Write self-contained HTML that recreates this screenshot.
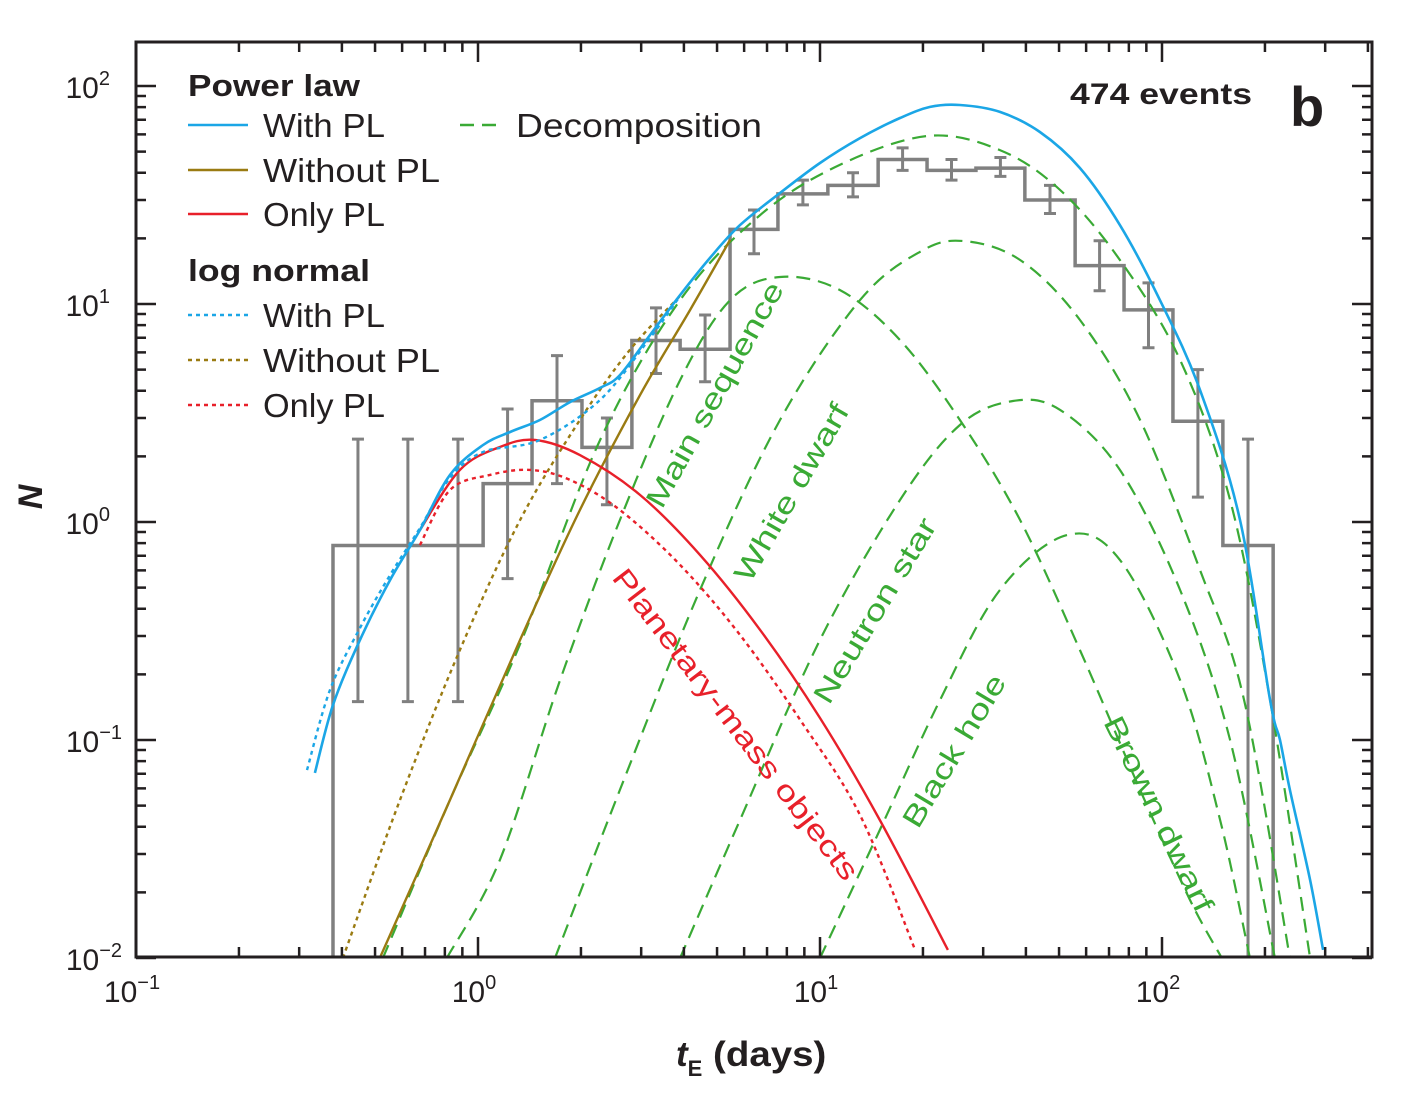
<!DOCTYPE html>
<html><head><meta charset="utf-8">
<style>
html,body{margin:0;padding:0;background:#fff;}
svg{display:block;font-family:"Liberation Sans",sans-serif;}
</style></head>
<body>
<svg id="chart" width="1419" height="1096" viewBox="0 0 1419 1096" xmlns="http://www.w3.org/2000/svg">
<g id="marks"></g>
<g id="axes"></g>
<g id="labels">
<text x="188" y="96" font-size="31" font-weight="bold" fill="#231f20" textLength="172" lengthAdjust="spacingAndGlyphs">Power law</text>
<text x="188" y="281" font-size="31" font-weight="bold" fill="#231f20" textLength="182" lengthAdjust="spacingAndGlyphs">log normal</text>
<text x="1070" y="104" font-size="30" font-weight="bold" fill="#231f20" textLength="182" lengthAdjust="spacingAndGlyphs">474 events</text>
<text x="1290" y="126" font-size="56" font-weight="bold" fill="#231f20">b</text>
<text transform="translate(662,510) rotate(-61)" font-size="29" fill="#3aaa35" textLength="253" lengthAdjust="spacingAndGlyphs">Main sequence</text>
<text transform="translate(750,584) rotate(-60)" font-size="29" fill="#3aaa35" textLength="200" lengthAdjust="spacingAndGlyphs">White dwarf</text>
<text transform="translate(829,706) rotate(-59)" font-size="29" fill="#3aaa35" textLength="211" lengthAdjust="spacingAndGlyphs">Neutron star</text>
<text transform="translate(918,830) rotate(-59)" font-size="29" fill="#3aaa35" textLength="173" lengthAdjust="spacingAndGlyphs">Black hole</text>
<text transform="translate(1103,722) rotate(64)" font-size="29" fill="#3aaa35" textLength="214" lengthAdjust="spacingAndGlyphs">Brown dwarf</text>
<text transform="translate(611,578) rotate(52.5)" font-size="29" fill="#e8202a" textLength="384" lengthAdjust="spacingAndGlyphs">Planetary-mass objects</text>
<text x="676" y="1066" font-size="35" font-weight="bold" fill="#231f20"><tspan font-style="italic">t</tspan><tspan font-size="22" dy="10">E</tspan><tspan dy="-10" textLength="124" lengthAdjust="spacingAndGlyphs"> (days)</tspan></text>
<text transform="translate(42,497) rotate(-90)" font-size="34" font-weight="bold" font-style="italic" fill="#231f20" text-anchor="middle">N</text>
</g>
</svg>
<script>
// ---- data (log10 units) ----
const binEdgeLogT = [-0.424,-0.278,-0.132,0.015,0.158,0.304,0.450,0.591,0.737,0.877,1.023,1.170,1.313,1.456,1.599,1.746,1.889,2.032,2.178,2.325];
const binN = [0.78,0.78,0.78,1.5,3.6,2.2,6.8,6.2,22,32,35,46,41,42,30,15,9.4,2.9,0.78];
const errLo = [0.15,0.15,0.15,0.55,1.5,1.2,4.8,4.4,17,28.5,31,41,37,38.5,26,11.5,6.3,1.3,0.01];
const errHi = [2.4,2.4,2.4,3.3,5.8,3.0,9.6,8.9,27,37,40,52,46,47,35,19.5,12.5,5.0,2.4];

const blueT = [-0.477,-0.424,-0.345,-0.257,-0.170,-0.082,0.015,0.094,0.181,0.269,0.357,0.415,0.503,0.591,0.678,0.766,0.883,1.0,1.117,1.234,1.322,1.409,1.526,1.643,1.760,1.877,1.994,2.111,2.228,2.316,2.345,2.374,2.433,2.471];
const blueN = [-1.151,-0.839,-0.541,-0.266,-0.037,0.216,0.353,0.413,0.468,0.550,0.615,0.674,0.858,1.041,1.211,1.362,1.509,1.647,1.761,1.853,1.904,1.913,1.881,1.789,1.624,1.362,1.018,0.606,0.009,-0.817,-1.0,-1.229,-1.642,-1.963];
const blueDotT = [-0.5,-0.433,-0.345,-0.257,-0.170,-0.082,0.015,0.181,0.357,0.503,0.591];
const blueDotN = [-1.138,-0.771,-0.486,-0.243,-0.028,0.202,0.321,0.376,0.560,0.844,1.037];
const oliveT = [-0.287,-0.082,0.123,0.298,0.474,0.620,0.737];
const oliveN = [-2.0,-1.275,-0.541,0.055,0.583,0.972,1.294];
const oliveDotT = [-0.395,-0.228,-0.053,0.123,0.298,0.444,0.591];
const oliveDotN = [-2.0,-1.275,-0.587,0.009,0.468,0.789,1.037];
const redT = [-0.170,-0.053,0.064,0.167,0.298,0.474,0.649,0.825,1.0,1.175,1.374];
const redN = [-0.037,0.239,0.344,0.376,0.307,0.124,-0.151,-0.495,-0.899,-1.367,-1.963];
const redDotT = [-0.170,-0.082,0.035,0.152,0.269,0.415,0.591,0.766,0.942,1.117,1.278];
const redDotN = [-0.106,0.147,0.216,0.239,0.193,0.055,-0.197,-0.518,-0.908,-1.344,-1.963];
const totalT = [-0.278,-0.082,0.123,0.357,0.591,0.825,1.058,1.316,1.526,1.702,1.877,2.053,2.199,2.316,2.433];
const totalN = [-2.0,-1.275,-0.560,0.376,1.018,1.408,1.638,1.771,1.706,1.523,1.202,0.743,0.101,-0.817,-2.0];
const msT = [-0.091,0.064,0.240,0.415,0.591,0.737,0.883,1.058,1.234,1.409,1.585,1.760,1.936,2.082,2.175];
const msN = [-2.0,-1.550,-0.725,0.009,0.651,1.018,1.124,1.064,0.835,0.468,0.009,-0.587,-1.229,-1.734,-2.0];
const wdT = [0.225,0.415,0.649,0.883,1.117,1.292,1.418,1.585,1.760,1.936,2.111,2.240,2.374];
const wdN = [-2.0,-1.229,-0.312,0.468,1.018,1.239,1.289,1.202,0.927,0.468,-0.220,-0.817,-2.0];
const nsT = [0.591,0.766,1.0,1.234,1.409,1.564,1.702,1.877,2.053,2.199,2.330];
const nsN = [-2.0,-1.367,-0.541,0.101,0.445,0.555,0.514,0.239,-0.312,-1.0,-2.0];
const bhT = [1.0,1.175,1.351,1.526,1.722,1.877,2.053,2.170,2.257];
const bhN = [-2.0,-1.413,-0.817,-0.312,-0.060,-0.174,-0.725,-1.367,-2.0];
const xTickExp = [-1,0,1,2];
const yTickExp = [2,1,0,-1,-2];

// ---- axes ----
const L=136,R=1372,T=42,B=957;
const X = lt => L + (lt+1)*342;
const Y = ln => 86 + (2-ln)*218;
const NS='http://www.w3.org/2000/svg';
const marks=document.getElementById('marks'), axes=document.getElementById('axes');
function mk(tag, attrs, parent){const e=document.createElementNS(NS,tag);for(const k in attrs)e.setAttribute(k,attrs[k]);parent.appendChild(e);return e;}
const clip=mk('clipPath',{id:'pc'},mk('defs',{},marks));
mk('rect',{x:L,y:T,width:R-L,height:B-T},clip);
const pg=mk('g',{'clip-path':'url(#pc)'},marks);

// histogram
let d='M'+X(binEdgeLogT[0])+','+B;
for(let i=0;i<binN.length;i++){
  const x0=X(binEdgeLogT[i]), x1=X(binEdgeLogT[i+1]), y=Y(Math.log10(binN[i]));
  d+=' L'+x0+','+y+' L'+x1+','+y;
}
d+=' L'+X(binEdgeLogT[binN.length])+','+B;
const hist=mk('path',{d:d,fill:'none',stroke:'#808080','stroke-width':3.5},pg);


for(let i=0;i<binN.length;i++){
  const x0=X(binEdgeLogT[i]), x1=X(binEdgeLogT[i+1]), xc=(x0+x1)/2;
  const y0=Y(Math.log10(errLo[i])), y1=Y(Math.log10(errHi[i]));
  const eb=mk('path',{d:`M${xc},${y0}L${xc},${y1}M${xc-6},${y0}L${xc+6},${y0}M${xc-6},${y1}L${xc+6},${y1}`,stroke:'#808080','stroke-width':3,fill:'none'},pg);
  
  
}
function line(ts,ns,color,dash,w,name){
  const P=ts.map((t,i)=>[X(t),Y(ns[i])]);
  let s='M'+P[0][0].toFixed(1)+','+P[0][1].toFixed(1);
  for(let i=0;i<P.length-1;i++){
    const p0=P[Math.max(0,i-1)],p1=P[i],p2=P[i+1],p3=P[Math.min(P.length-1,i+2)];
    const c1=[p1[0]+(p2[0]-p0[0])/6,p1[1]+(p2[1]-p0[1])/6];
    const c2=[p2[0]-(p3[0]-p1[0])/6,p2[1]-(p3[1]-p1[1])/6];
    s+=`C${c1[0].toFixed(1)},${c1[1].toFixed(1)} ${c2[0].toFixed(1)},${c2[1].toFixed(1)} ${p2[0].toFixed(1)},${p2[1].toFixed(1)}`;
  }
  const p=mk('path',{d:s,fill:'none',stroke:color,'stroke-width':w,'stroke-dasharray':dash,'stroke-linejoin':'round'},pg);
  
  
}
const G='#3aaa35';
line(totalT,totalN,G,'14,8',2.2,'decomposition-total');
line(msT,msN,G,'14,8',2.2,'decomposition-main-sequence');
line(wdT,wdN,G,'14,8',2.2,'decomposition-white-dwarf');
line(nsT,nsN,G,'14,8',2.2,'decomposition-neutron-star');
line(bhT,bhN,G,'14,8',2.2,'decomposition-black-hole');
line(oliveDotT,oliveDotN,'#9a7b12','4,4',2.4,'lognormal-without-pl');
line(oliveT,oliveN,'#9a7b12','none',2.4,'powerlaw-without-pl');
line(redDotT,redDotN,'#e8202a','4,4',2.4,'lognormal-only-pl');
line(redT,redN,'#e8202a','none',2.4,'powerlaw-only-pl');
line(blueDotT,blueDotN,'#1ba6e6','4,4',2.4,'lognormal-with-pl');
line(blueT,blueN,'#1ba6e6','none',2.6,'powerlaw-with-pl');

// frame + ticks
const fr=mk('rect',{x:L,y:T,width:R-L,height:B-T,fill:'none',stroke:'#231f20','stroke-width':3},axes);


let td='';
for(let e=-1;e<=2;e++)for(let m=1;m<=9;m++){
  const x=X(e+Math.log10(m)); if(x>R)continue; const len=m===1?20:10;
  td+=`M${x},${B}L${x},${B-len}M${x},${T}L${x},${T+len}`;
}
for(let e=-2;e<=2;e++)for(let m=1;m<=9;m++){
  const y=Y(e+Math.log10(m)); if(y<T)continue; const len=m===1?20:10;
  td+=`M${L},${y}L${L+len},${y}M${R},${y}L${R-len},${y}`;
}
const tk=mk('path',{d:td,stroke:'#231f20','stroke-width':2.5,fill:'none'},axes);


xTickExp.forEach(e=>{
  const t=mk('text',{x:X(e)-4,y:1002,'font-size':30,fill:'#231f20','text-anchor':'middle'},axes);
  t.innerHTML=`10<tspan font-size="20" dy="-13">${e<0?'\u2212'+(-e):e}</tspan>`;
  
  
});
yTickExp.forEach(e=>{
  const t=mk('text',{x:e<0?122:110,y:Y(e)+12,'font-size':30,fill:'#231f20','text-anchor':'end'},axes);
  t.innerHTML=`10<tspan font-size="20" dy="-13">${e<0?'\u2212'+(-e):e}</tspan>`;
  
  
});

// legend
const leg=[[125,'#1ba6e6','none','With PL',122],[170,'#9a7b12','none','Without PL',177],[214,'#e8202a','none','Only PL',122],[315,'#1ba6e6','4,4','With PL',122],[360,'#9a7b12','4,4','Without PL',177],[405,'#e8202a','4,4','Only PL',122]];
leg.forEach(r=>{
  const g=mk('g',{},axes);
  
  
  mk('line',{x1:188,x2:248,y1:r[0],y2:r[0],stroke:r[1],'stroke-width':2.6,'stroke-dasharray':r[2]},g);
  const t=mk('text',{x:263,y:r[0]+12,'font-size':33,fill:'#231f20',textLength:r[4],lengthAdjust:'spacingAndGlyphs'},g); t.textContent=r[3];
});
const gd=mk('g',{},axes);


mk('line',{x1:460,x2:500,y1:125,y2:125,stroke:G,'stroke-width':2.4,'stroke-dasharray':'14,8'},gd);
const tdc=mk('text',{x:516,y:137,'font-size':33,fill:'#231f20',textLength:246,lengthAdjust:'spacingAndGlyphs'},gd); tdc.textContent='Decomposition';
</script>
</body></html>
